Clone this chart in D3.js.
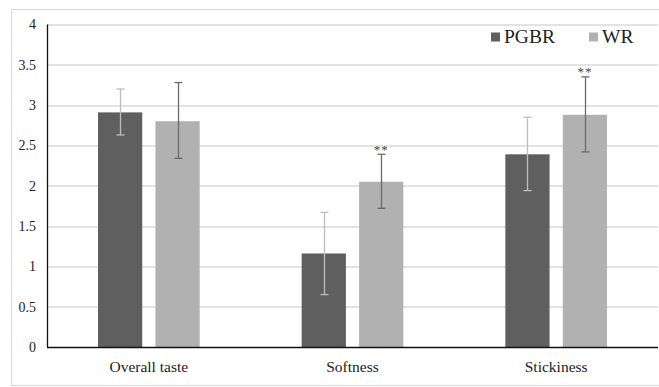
<!DOCTYPE html>
<html>
<head>
<meta charset="utf-8">
<script src="https://cdn.jsdelivr.net/npm/d3@7"></script>
<style>
  body { margin: 0; background: #fff; }
  svg text { font-family: "Liberation Serif", "Times New Roman", serif !important; }
</style>
</head>
<body>
<div id="chart"></div>
<script>
// chart data
var categories = ["Overall taste", "Softness", "Stickiness"];
var seriesNames = ["PGBR", "WR"];
var pgbrMean = [2.91, 1.16, 2.39];
var pgbrErrLow = [2.63, 0.65, 1.94];
var pgbrErrHigh = [3.20, 1.67, 2.85];
var wrMean = [2.80, 2.05, 2.88];
var wrErrLow = [2.34, 1.72, 2.42];
var wrErrHigh = [3.28, 2.39, 3.35];
var wrMarks = ["", "**", "**"];
var yTicks = [0, 0.5, 1, 1.5, 2, 2.5, 3, 3.5, 4];

var svgWidth = 659;
var svgHeight = 387;

var margin = { top: 24.5, right: 1, bottom: 40, left: 47 };
var width = svgWidth - margin.left - margin.right;
var height = svgHeight - margin.top - margin.bottom;

var colors = { PGBR: "#5f5f5f", WR: "#b1b1b1" };
var errColors = { PGBR: "#bdbdbd", WR: "#6a6a6a" };

var svg = d3.select("#chart")
  .append("svg")
  .attr("width", svgWidth)
  .attr("height", svgHeight);

// outer frame
svg.append("rect")
  .attr("x", 11.5)
  .attr("y", 9.5)
  .attr("width", 660)
  .attr("height", 376)
  .attr("fill", "none")
  .attr("stroke", "#d9d9d9");

var chartGroup = svg.append("g")
  .attr("transform", `translate(${margin.left}, ${margin.top})`);

var xScale = d3.scaleBand()
  .domain(categories)
  .range([0, width]);

var xInner = d3.scaleBand()
  .domain(seriesNames)
  .range([51, xScale.bandwidth() - 51])
  .paddingInner(0.23);

var yScale = d3.scaleLinear()
  .domain([0, 4])
  .range([height, 0]);

// gridlines
chartGroup.append("g")
  .selectAll("line")
  .data(yTicks.filter(d => d > 0))
  .enter()
  .append("line")
  .attr("x1", 0)
  .attr("x2", width)
  .attr("y1", d => Math.round(yScale(d)) + 0.5)
  .attr("y2", d => Math.round(yScale(d)) + 0.5)
  .attr("stroke", "#d9d9d9")
  .attr("stroke-width", 1.3);

// y tick labels
var leftAxis = d3.axisLeft(yScale)
  .tickValues(yTicks)
  .tickSize(0)
  .tickPadding(11)
  .tickFormat(d => d);

var yAxis = chartGroup.append("g").call(leftAxis)
  .attr("font-family", null);
yAxis.select(".domain").remove();
yAxis.selectAll("text")
  .style("font-size", "14px")
  .attr("fill", "#222");

var rows = categories.map(function(c, i) {
  return [
    { cat: c, s: "PGBR", v: pgbrMean[i], lo: pgbrErrLow[i], hi: pgbrErrHigh[i], mark: "" },
    { cat: c, s: "WR", v: wrMean[i], lo: wrErrLow[i], hi: wrErrHigh[i], mark: wrMarks[i] }
  ];
}).flat();

// bars
chartGroup.selectAll("rect.bar")
  .data(rows)
  .enter()
  .append("rect")
  .attr("class", "bar")
  .attr("x", d => xScale(d.cat) + xInner(d.s))
  .attr("y", d => yScale(d.v))
  .attr("width", xInner.bandwidth())
  .attr("height", d => height - yScale(d.v))
  .attr("fill", d => colors[d.s]);

// error bars
var errGroup = chartGroup.selectAll("g.err")
  .data(rows)
  .enter()
  .append("g")
  .attr("class", "err")
  .attr("stroke", d => errColors[d.s])
  .attr("stroke-width", 1.3)
  .attr("transform", d => `translate(${Math.round(xScale(d.cat) + xInner(d.s) + xInner.bandwidth() / 2) + 0.5}, 0)`);

errGroup.append("line")
  .attr("y1", d => yScale(d.lo))
  .attr("y2", d => yScale(d.hi));
errGroup.append("line")
  .attr("x1", -4).attr("x2", 4)
  .attr("y1", d => yScale(d.lo))
  .attr("y2", d => yScale(d.lo));
errGroup.append("line")
  .attr("x1", -4).attr("x2", 4)
  .attr("y1", d => yScale(d.hi))
  .attr("y2", d => yScale(d.hi));

// significance marks
chartGroup.selectAll("text.mark")
  .data(rows.filter(d => d.mark))
  .enter()
  .append("text")
  .attr("class", "mark")
  .attr("x", d => xScale(d.cat) + xInner(d.s) + xInner.bandwidth() / 2)
  .attr("y", d => yScale(d.hi) - 0.5)
  .attr("text-anchor", "middle")
  .style("font-size", "13px")
  .style("letter-spacing", "1px")
  .attr("fill", "#444")
  .text(d => d.mark);

// axes lines
chartGroup.append("line")
  .attr("x1", 0).attr("x2", width)
  .attr("y1", height + 0.5).attr("y2", height + 0.5)
  .attr("stroke", "#111")
  .attr("stroke-width", 1.3);
chartGroup.append("line")
  .attr("x1", 0.5).attr("x2", 0.5)
  .attr("y1", 0).attr("y2", height)
  .attr("stroke", "#111")
  .attr("stroke-width", 1.3);

// category labels
chartGroup.selectAll("text.cat")
  .data(categories)
  .enter()
  .append("text")
  .attr("class", "cat")
  .attr("x", d => xScale(d) + xScale.bandwidth() / 2)
  .attr("y", height + 25)
  .attr("text-anchor", "middle")
  .style("font-size", "15.5px")
  .attr("fill", "#222")
  .text(d => d);

// legend
var legendX = [444, 542];
var legend = chartGroup.selectAll("g.legend")
  .data(seriesNames)
  .enter()
  .append("g")
  .attr("class", "legend")
  .attr("transform", (d, i) => `translate(${legendX[i]}, 0)`);

legend.append("rect")
  .attr("x", 0)
  .attr("y", 8)
  .attr("width", 9)
  .attr("height", 9)
  .attr("fill", d => colors[d]);

legend.append("text")
  .attr("x", 13)
  .attr("y", 18.5)
  .style("font-size", "19.5px")
  .attr("fill", "#222")
  .text(d => d);
</script>
</body>
</html>
